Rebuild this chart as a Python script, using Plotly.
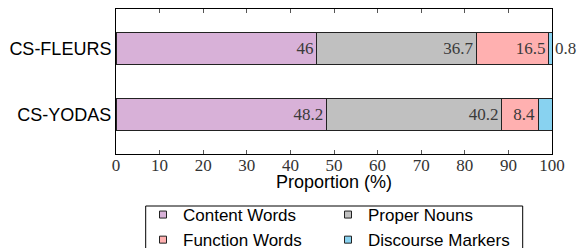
import plotly.graph_objects as go

datasets = ["CS-FLEURS", "CS-YODAS"]
series_names = ["Content Words", "Proper Nouns", "Function Words", "Discourse Markers"]
content_words = [46.0, 48.2]
proper_nouns = [36.7, 40.2]
function_words = [16.5, 8.4]
discourse_markers = [0.8, 3.2]
x_ticks = [0, 10, 20, 30, 40, 50, 60, 70, 80, 90, 100]

values = [content_words, proper_nouns, function_words, discourse_markers]
colors = ["#D8B1D8", "#C0C0C0", "#FFB0B0", "#88D2F0"]

serif = "Liberation Serif"
sans = "Liberation Sans, Arial, sans-serif"

fig = go.Figure()
for i, (name, vals, col) in enumerate(zip(series_names, values, colors)):
    last = i == len(series_names) - 1
    fig.add_trace(go.Bar(
        y=datasets, x=vals, name=name, orientation="h",
        marker=dict(color=col, line=dict(color="#222222", width=1)),
        width=0.48,
        text=[f"{v:g}" for v in vals],
        textposition="outside" if last else "inside",
        insidetextanchor="end",
        textangle=0,
        constraintext="none",
        cliponaxis=False,
        textfont=dict(family=serif, size=17, color="#3a3a3a"),
        outsidetextfont=dict(family=serif, size=17, color="#3a3a3a"),
        hoverinfo="skip",
        showlegend=False,
        legendgroup=name,
    ))
# legend entries (small square swatches like the reference)
for name, col in zip(series_names, colors):
    fig.add_trace(go.Scatter(
        x=[None], y=[None], mode="markers", name=name, legendgroup=name,
        marker=dict(symbol="square", size=7, color=col, line=dict(color="#222222", width=1)),
        hoverinfo="skip", showlegend=True,
    ))

# plot area in px: x 116..552, y 9..154
pw, ph = 436.0, 145.0
def px_x(x):
    return (x - 116) / pw
def px_y(y):
    return (154 - y) / ph

fig.update_layout(
    width=579, height=248,
    barmode="stack",
    margin=dict(l=116, r=27, t=9, b=94, autoexpand=False),
    plot_bgcolor="white", paper_bgcolor="white",
    showlegend=True,
    legend=dict(
        orientation="h", xref="container", yref="container",
        x=143 / 579, xanchor="left", y=1 - 197 / 248, yanchor="top",
        entrywidth=140, entrywidthmode="pixels",
        font=dict(family=sans, size=17, color="black"),
        borderwidth=0, bgcolor="rgba(0,0,0,0)",
        traceorder="normal", itemclick=False, itemdoubleclick=False,
        tracegroupgap=0,
    ),
    shapes=[dict(
        type="rect", xref="paper", yref="paper",
        x0=px_x(145.7), x1=px_x(522.7), y0=px_y(206), y1=px_y(262),
        line=dict(color="black", width=1), fillcolor="rgba(0,0,0,0)", layer="below",
    )],
    annotations=[dict(
        text="Proportion (%)", xref="paper", yref="paper", x=0.5, y=px_y(182),
        xanchor="center", yanchor="middle", showarrow=False,
        font=dict(family=sans, size=18, color="black"),
    )],
    xaxis=dict(
        range=[0, 100], tickvals=x_ticks, ticktext=[str(t) for t in x_ticks],
        ticks="inside", ticklen=4, tickcolor="#555",
        showline=True, linecolor="black", linewidth=1, mirror="ticks",
        showgrid=False, zeroline=False,
        ticklabelstandoff=-4,
        tickfont=dict(family=serif, size=17, color="#333"),
    ),
    yaxis=dict(
        type="category", categoryorder="array", categoryarray=datasets,
        range=[1.6, -0.6],
        showline=True, linecolor="black", linewidth=1, mirror=True,
        showgrid=False, zeroline=False, ticks="",
        tickfont=dict(family=sans, size=18, color="black"),
    ),
)

fig.write_html("out.html", config={"displayModeBar": False},
               post_script="document.body.style.margin='0';")
